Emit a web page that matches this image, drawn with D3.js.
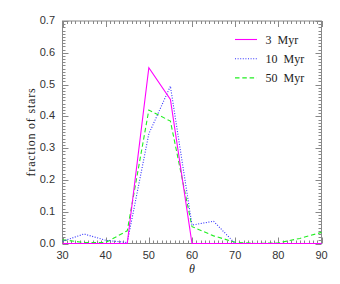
<!DOCTYPE html>
<html lang="en">
<head>
    <meta charset="UTF-8">
    <title>fraction of stars vs theta</title>
    <script src="https://d3js.org/d3.v7.min.js"></script>
    <style>
        body {
            margin: 0;
            background: white;
        }
        .tick-label {
            font-family: "Liberation Sans", Arial, sans-serif;
            font-size: 11px;
            fill: #333;
        }
        .serif {
            font-family: "Liberation Serif", "Times New Roman", serif;
            fill: #222;
        }
        .frame {
            fill: none;
            stroke: #888;
            stroke-width: 1;
        }
        .tick {
            stroke: #888;
            stroke-width: 1;
        }
        .series {
            fill: none;
            stroke-width: 1.1;
        }
    </style>
</head>
<body>
    <div id="chart"></div>
    <script>
        // data
        const theta = [30, 35, 40, 45, 50, 55, 60, 65, 70, 75, 80, 85, 90]
        const myr3  = [0, 0, 0, 0, 0.553, 0.453, 0, 0, 0, 0, 0, 0, 0]
        const myr10 = [0.007, 0.03, 0.01, 0.003, 0.345, 0.495, 0.058, 0.07, 0, 0, 0, 0, 0]
        const myr50 = [0.012, 0.003, 0.003, 0.04, 0.42, 0.385, 0.053, 0.024, 0.004, 0, 0.002, 0.016, 0.035]

        const seriesNames = ['3 Myr', '10 Myr', '50 Myr']
        const seriesColors = ['#ff00ff', '#3333ff', '#22ee22']
        const seriesDash = [null, '1,1.6', '4.5,2.8']
        const xTicks = [30, 40, 50, 60, 70, 80, 90]
        const yTicks = [0, 0.1, 0.2, 0.3, 0.4, 0.5, 0.6, 0.7]

        const WIDTH = 340
        const HEIGHT = 284
        const LEFT = 62.5, RIGHT = 321.5, TOP = 21, BOTTOM = 243.5

        const svg = d3.select('#chart').append('svg')
            .attr('width', WIDTH)
            .attr('height', HEIGHT)

        const x = d3.scaleLinear().domain([30, 90]).range([LEFT, RIGHT])
        const y = d3.scaleLinear().domain([0, 0.7]).range([BOTTOM, TOP])

        // frame
        svg.append('rect').attr('class', 'frame')
            .attr('x', LEFT).attr('y', TOP)
            .attr('width', RIGHT - LEFT).attr('height', BOTTOM - TOP)

        // ticks on all four sides, pointing inward
        const ticks = svg.append('g')
        d3.range(30, 91, 1).forEach(v => {
            const len = v % 10 === 0 ? 6 : 3
            const px = Math.round(x(v)) + 0.5
            ticks.append('line').attr('class', 'tick')
                .attr('x1', px).attr('x2', px).attr('y1', BOTTOM).attr('y2', BOTTOM - len)
            ticks.append('line').attr('class', 'tick')
                .attr('x1', px).attr('x2', px).attr('y1', TOP).attr('y2', TOP + len)
        })
        d3.range(0, 71, 1).forEach(i => {
            const len = i % 10 === 0 ? 6 : 3
            const py = Math.round(y(i / 100)) + 0.5
            ticks.append('line').attr('class', 'tick')
                .attr('x1', LEFT).attr('x2', LEFT + len).attr('y1', py).attr('y2', py)
            ticks.append('line').attr('class', 'tick')
                .attr('x1', RIGHT).attr('x2', RIGHT - len).attr('y1', py).attr('y2', py)
        })

        // tick labels
        svg.append('g').selectAll('text')
            .data(xTicks).enter()
            .append('text').attr('class', 'tick-label')
            .attr('x', d => x(d))
            .attr('y', 259)
            .attr('text-anchor', 'middle')
            .text(d => d)

        svg.append('g').selectAll('text')
            .data(yTicks).enter()
            .append('text').attr('class', 'tick-label')
            .attr('x', 55)
            .attr('y', d => y(d) + 3)
            .attr('text-anchor', 'end')
            .text(d => d.toFixed(1))

        // axis titles
        svg.append('text').attr('class', 'serif')
            .attr('transform', 'translate(35,132) rotate(-90)')
            .attr('text-anchor', 'middle')
            .style('font-size', '12px')
            .style('letter-spacing', '0.8px')
            .text('fraction of stars')

        svg.append('text').attr('class', 'serif')
            .attr('x', x(60)).attr('y', 273)
            .attr('text-anchor', 'middle')
            .style('font-size', '12px')
            .style('font-style', 'italic')
            .text('θ')

        // lines
        const allSeries = [myr3, myr10, myr50]
        const line = d3.line()
            .x((d, i) => x(theta[i]))
            .y(d => y(d))

        // draw in reverse so magenta sits on top
        allSeries.slice().reverse().forEach((vals, k) => {
            const idx = allSeries.length - 1 - k
            svg.append('path').attr('class', 'series')
                .attr('d', line(vals))
                .attr('stroke', seriesColors[idx])
                .attr('stroke-dasharray', seriesDash[idx])
        })

        // legend
        const legend = svg.append('g')
        seriesNames.forEach((name, i) => {
            const ly = 39.5 + i * 19.2
            legend.append('line')
                .attr('x1', 235).attr('x2', 257)
                .attr('y1', ly).attr('y2', ly)
                .attr('stroke', seriesColors[i])
                .attr('stroke-width', 1.1)
                .attr('stroke-dasharray', seriesDash[i])
            legend.append('text').attr('class', 'serif')
                .attr('x', 265.5).attr('y', ly + 4)
                .style('font-size', '12px')
                .style('white-space', 'pre')
                .text(name.replace(' ', '  '))
        })
    </script>
</body>
</html>
